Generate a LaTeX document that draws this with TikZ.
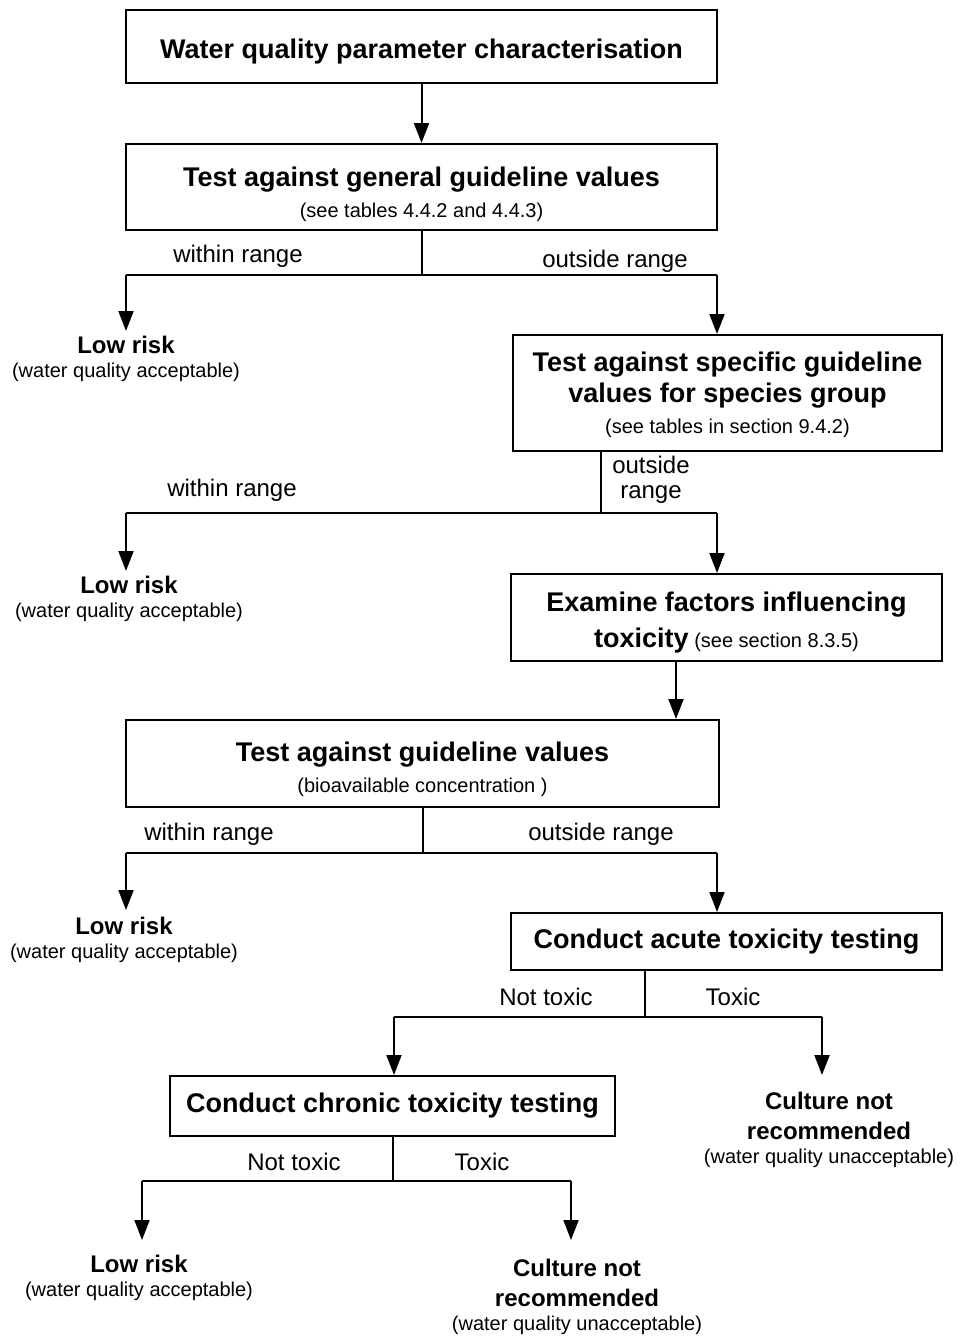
\documentclass[tikz,border=0pt]{standalone}
\usepackage{fontspec}
\setmainfont{Liberation Sans}
\usepackage{tikz}
\usetikzlibrary{arrows.meta, positioning}

\newcommand{\headfont}{\bfseries\fontsize{27}{31}\selectfont}
\newcommand{\notefont}{\mdseries\fontsize{20}{24}\selectfont}
\newcommand{\resultfont}{\bfseries\fontsize{24}{28}\selectfont}
\newcommand{\toprow}[1]{\rule{0pt}{#1}}

\begin{document}
\begin{tikzpicture}[
    x=1pt, y=-1pt,
    stage/.style 2 args={rectangle, draw=black, line width=2pt, minimum width=#1, minimum height=#2, align=center, inner sep=0pt, font=\fontsize{20}{31}\selectfont},
    outcome/.style={anchor=north, align=center, inner xsep=0pt, inner ysep=5pt, font=\fontsize{20}{24}\selectfont},
    branchtext/.style={inner sep=0pt, align=center, font=\fontsize{24}{25}\selectfont},
    flow/.style={draw=black, line width=2pt},
    arrow/.style={flow, -{Triangle[length=20pt, width=15pt]}},
]
\useasboundingbox (0,0) rectangle (963,1336);

\node[stage={591pt}{73pt}] (charact) at (421.5,46.5) {\toprow{30pt}\headfont Water quality parameter characterisation};
\node[stage={591pt}{86pt}] (general) at (421.5,187) {{\toprow{34pt}\headfont Test against general guideline values}\\{\notefont (see tables 4.4.2 and 4.4.3)}};
\node[stage={429pt}{116pt}] (specific) at (727.5,393) {{\toprow{24pt}\headfont Test against specific guideline}\\{\headfont values for species group}\\{\notefont (see tables in section 9.4.2)}};
\node[stage={431pt}{87pt}] (factors) at (726.5,617.5) {{\toprow{30pt}\headfont Examine factors influencing}\\[5pt]{\headfont toxicity} {\notefont (see section 8.3.5)}};
\node[stage={593pt}{87pt}] (bioavail) at (422.5,763.5) {{\toprow{32pt}\headfont Test against guideline values}\\{\notefont (bioavailable concentration )}};
\node[stage={431pt}{57pt}] (acute) at (726.5,941.5) {\headfont Conduct acute toxicity testing};
\node[stage={445pt}{60pt}] (chronic) at (392.5,1106) {\headfont Conduct chronic toxicity testing};

\node[outcome] (low1) at (126,331) {{\resultfont Low risk}\\{\notefont (water quality acceptable)}};
\node[outcome] (low2) at (129,571) {{\resultfont Low risk}\\{\notefont (water quality acceptable)}};
\node[outcome] (low3) at (124,912) {{\resultfont Low risk}\\{\notefont (water quality acceptable)}};
\node[outcome] (low4) at (139,1250) {{\resultfont Low risk}\\{\notefont (water quality acceptable)}};
\node[outcome] (cult1) at (829,1087) {{\resultfont Culture not}\\[6pt]{\resultfont recommended}\\{\notefont (water quality unacceptable)}};
\node[outcome] (cult2) at (577,1254) {{\resultfont Culture not}\\[6pt]{\resultfont recommended}\\{\notefont (water quality unacceptable)}};

\node[branchtext] (in1) at (238,256) {within range};
\node[branchtext] (out1) at (615,261) {outside range};
\node[branchtext] (in2) at (232,490) {within range};
\node[branchtext] (out2) at (651,479.5) {outside\\range};
\node[branchtext] (in3) at (209,834) {within range};
\node[branchtext] (out3) at (601,834) {outside range};
\node[branchtext] (ok1) at (546,997) {Not toxic};
\node[branchtext] (tox1) at (733,997) {Toxic};
\node[branchtext] (ok2) at (294,1162) {Not toxic};
\node[branchtext] (tox2) at (482,1162) {Toxic};

\coordinate (g-l) at (126,275);
\coordinate (g-r) at (717,275);
\coordinate (s-m) at (601,513);
\coordinate (s-l) at (126,513);
\coordinate (s-r) at (717,513);
\coordinate (f-m) at (676,690);
\coordinate (b-l) at (126,853);
\coordinate (b-r) at (717,853);
\coordinate (a-m) at (645,1017);
\coordinate (a-l) at (394,1017);
\coordinate (a-r) at (822,1017);
\coordinate (c-l) at (142,1181);
\coordinate (c-r) at (571,1181);

\draw[arrow] (charact) -- (general);

\draw[flow] (general.south) |- (g-l);
\draw[flow] (general.south) |- (g-r);
\draw[arrow] (g-l) -- (g-l |- low1.north);
\draw[arrow] (g-r) -- (g-r |- specific.north);

\draw[flow] (s-m |- specific.south) -- (s-m);
\draw[flow] (s-l) -- (s-r);
\draw[arrow] (s-l) -- (s-l |- low2.north);
\draw[arrow] (s-r) -- (s-r |- factors.north);

\draw[arrow] (f-m |- factors.south) -- (f-m |- bioavail.north);

\draw[flow] (bioavail.south) |- (b-l);
\draw[flow] (bioavail.south) |- (b-r);
\draw[arrow, shorten >=2pt] (b-l) -- (b-l |- low3.north);
\draw[arrow] (b-r) -- (b-r |- acute.north);

\draw[flow] (a-m |- acute.south) -- (a-m);
\draw[flow] (a-l) -- (a-r);
\draw[arrow] (a-l) -- (a-l |- chronic.north);
\draw[arrow, shorten >=12pt] (a-r) -- (a-r |- cult1.north);

\draw[flow] (chronic.south) |- (c-l);
\draw[flow] (chronic.south) |- (c-r);
\draw[arrow, shorten >=10pt] (c-l) -- (c-l |- low4.north);
\draw[arrow, shorten >=14pt] (c-r) -- (c-r |- cult2.north);

\end{tikzpicture}
\end{document}
